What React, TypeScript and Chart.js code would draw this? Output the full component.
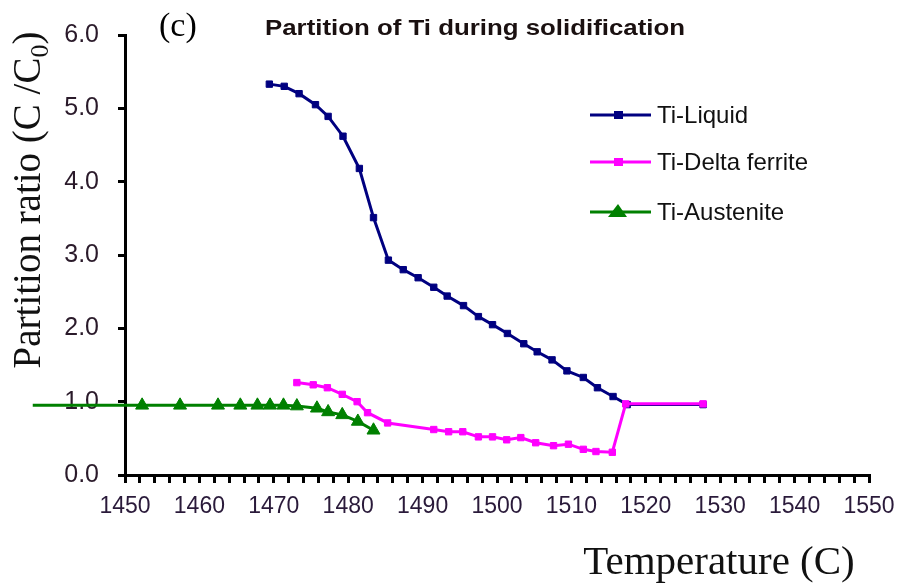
import React, { useEffect, useRef } from "react";
import { Chart, registerables } from "chart.js";

Chart.register(...registerables);

const liquidTemp = [1469.4, 1471.4, 1473.4, 1475.6, 1477.3, 1479.3, 1481.5, 1483.4, 1485.4, 1487.4, 1489.4, 1491.5, 1493.3, 1495.5, 1497.5, 1499.4, 1501.4, 1503.6, 1505.4, 1507.4, 1509.4, 1511.6, 1513.5, 1515.6, 1517.5, 1527.7];
const liquidRatio = [5.33, 5.3, 5.2, 5.05, 4.89, 4.62, 4.18, 3.51, 2.93, 2.8, 2.69, 2.56, 2.44, 2.31, 2.16, 2.05, 1.93, 1.79, 1.68, 1.57, 1.42, 1.33, 1.19, 1.07, 0.96, 0.96];

const deltaTemp = [1473.1, 1475.3, 1477.2, 1479.2, 1481.2, 1482.6, 1485.3, 1491.5, 1493.5, 1495.4, 1497.5, 1499.4, 1501.3, 1503.2, 1505.2, 1507.6, 1509.6, 1511.6, 1513.3, 1515.5, 1517.3, 1527.7];
const deltaRatio = [1.26, 1.23, 1.19, 1.1, 1.0, 0.85, 0.71, 0.62, 0.59, 0.59, 0.52, 0.52, 0.48, 0.51, 0.44, 0.4, 0.42, 0.35, 0.32, 0.31, 0.97, 0.97];

const austTemp = [1437.6, 1452.3, 1457.4, 1462.5, 1465.5, 1467.8, 1469.5, 1471.3, 1473.1, 1475.8, 1477.3, 1479.2, 1481.3, 1483.4];
const austRatio = [0.95, 0.95, 0.95, 0.95, 0.95, 0.95, 0.95, 0.95, 0.94, 0.91, 0.86, 0.82, 0.73, 0.61];

const seriesNames = ["Ti-Liquid", "Ti-Delta ferrite", "Ti-Austenite"];
const seriesColors = ["#000080", "#ff00ff", "#008000"];

const xTickLabels = ["1450", "1460", "1470", "1480", "1490", "1500", "1510", "1520", "1530", "1540", "1550"];
const yTickLabels = ["0.0", "1.0", "2.0", "3.0", "4.0", "5.0", "6.0"];

const chartTitle = "Partition of Ti during solidification";
const panelLabel = "(c)";
const xTitle = "Temperature (C)";
const yTitleMain = "Partition ratio (C /C";
const yTitleSub = "0";
const yTitleEnd = ")";

const SANS = '"Liberation Sans", Arial, sans-serif';
const SERIF = '"Liberation Serif", "Times New Roman", serif';

const toXY = (xs: number[], ys: number[]) => xs.map((x, i) => ({ x, y: ys[i] }));

const textPlugin = {
  id: "texts",
  afterDraw(chart: any) {
    const ctx = chart.ctx as CanvasRenderingContext2D;
    ctx.save();
    // panel label
    ctx.fillStyle = "#000";
    ctx.textBaseline = "middle";
    ctx.textAlign = "left";
    ctx.font = `34px ${SERIF}`;
    ctx.fillText(panelLabel, 159, 27);
    // title (stretched horizontally to match)
    ctx.fillStyle = "#1a1010";
    ctx.font = `bold 22px ${SANS}`;
    const tw = ctx.measureText(chartTitle).width;
    ctx.save();
    ctx.translate(265, 29);
    ctx.scale(420 / tw, 1);
    ctx.fillText(chartTitle, 0, 0);
    ctx.restore();
    // x title
    ctx.fillStyle = "#111";
    ctx.font = `41px ${SERIF}`;
    ctx.textAlign = "center";
    ctx.textBaseline = "alphabetic";
    ctx.fillText(xTitle, 719, 574);
    // y title rotated with subscript
    ctx.save();
    ctx.translate(40, 200);
    ctx.rotate(-Math.PI / 2);
    ctx.textAlign = "left";
    const mainFont = `39px ${SERIF}`;
    const subFont = `26px ${SERIF}`;
    ctx.font = mainFont;
    const w1 = ctx.measureText(yTitleMain).width;
    const w3 = ctx.measureText(yTitleEnd).width;
    ctx.font = subFont;
    const w2 = ctx.measureText(yTitleSub).width;
    const total = w1 + w2 + w3;
    const x0 = -total / 2;
    ctx.font = mainFont;
    ctx.fillText(yTitleMain, x0, 0);
    ctx.font = subFont;
    ctx.fillText(yTitleSub, x0 + w1, 8);
    ctx.font = mainFont;
    ctx.fillText(yTitleEnd, x0 + w1 + w2, 0);
    ctx.restore();
    // legend
    const rows = [115, 162, 212];
    ctx.font = `24px ${SANS}`;
    ctx.textBaseline = "middle";
    ctx.textAlign = "left";
    rows.forEach((ry, i) => {
      const c = seriesColors[i];
      ctx.strokeStyle = c;
      ctx.lineWidth = 3;
      ctx.beginPath();
      ctx.moveTo(590, ry);
      ctx.lineTo(651, ry);
      ctx.stroke();
      ctx.fillStyle = c;
      if (i < 2) {
        ctx.fillRect(614, ry - 4, 9, 8);
      } else {
        ctx.beginPath();
        ctx.moveTo(618, ry - 8);
        ctx.lineTo(627, ry + 5);
        ctx.lineTo(608, ry + 5);
        ctx.closePath();
        ctx.fill();
      }
      ctx.fillStyle = "#111";
      ctx.fillText(seriesNames[i], 657, ry + 1);
    });
    ctx.restore();
  },
};

export default function App() {
  const ref = useRef<HTMLCanvasElement | null>(null);
  useEffect(() => {
    if (!ref.current) return;
    const chart = new Chart(ref.current, {
      type: "line",
      data: {
        datasets: [
          {
            label: seriesNames[0],
            data: toXY(liquidTemp, liquidRatio),
            borderColor: seriesColors[0],
            backgroundColor: seriesColors[0],
            borderWidth: 3,
            pointStyle: "rect",
            pointRadius: 4.5,
            pointBorderWidth: 1,
            order: 3,
            clip: false,
          },
          {
            label: seriesNames[1],
            data: toXY(deltaTemp, deltaRatio),
            borderColor: seriesColors[1],
            backgroundColor: seriesColors[1],
            borderWidth: 3,
            pointStyle: "rect",
            pointRadius: 4.5,
            pointBorderWidth: 1,
            order: 1,
            clip: false,
          },
          {
            label: seriesNames[2],
            data: toXY(austTemp, austRatio),
            borderColor: seriesColors[2],
            backgroundColor: seriesColors[2],
            borderWidth: 3,
            pointStyle: "triangle",
            pointRadius: austTemp.map((_, i) => (i === 0 ? 0 : 7.5)),
            pointBorderWidth: 1,
            order: 2,
            clip: false,
          },
        ] as any,
      },
      options: {
        animation: false,
        responsive: false,
        maintainAspectRatio: false,
        layout: { padding: { top: 35, right: 33, left: 0, bottom: 0 } },
        plugins: {
          legend: { display: false },
          tooltip: { enabled: false },
          title: { display: false },
        },
        elements: { line: { tension: 0 } },
        scales: {
          x: {
            type: "linear",
            min: 1450,
            max: 1550,
            border: { display: true, color: "#000", width: 3 },
            grid: { drawOnChartArea: false, drawTicks: true, tickLength: 8, color: "#000", lineWidth: 3 },
            ticks: {
              stepSize: 2,
              maxTicksLimit: 100,
              autoSkip: false,
              maxRotation: 0,
              padding: 10,
              color: "#2a1a3a",
              font: { family: SANS, size: 23 },
              callback: (v: any) => {
                const idx = (Number(v) - 1450) / 10;
                return Math.abs(idx - Math.round(idx)) < 1e-6 ? xTickLabels[Math.round(idx)] : "";
              },
            },
            afterFit: (s: any) => {
              s.height = 109;
              s.paddingLeft = 0;
              s.paddingRight = 0;
            },
          },
          y: {
            type: "linear",
            min: 0,
            max: 6,
            border: { display: true, color: "#000", width: 3 },
            grid: { drawOnChartArea: false, drawTicks: true, tickLength: 7, color: "#000", lineWidth: 3 },
            ticks: {
              stepSize: 1,
              padding: 19,
              color: "#2a1a2a",
              font: { family: SANS, size: 25 },
              callback: (v: any) => yTickLabels[Math.round(Number(v))] ?? "",
            },
            afterFit: (s: any) => {
              s.width = 125;
              s.paddingTop = 0;
              s.paddingBottom = 0;
            },
          },
        },
      } as any,
      plugins: [textPlugin],
    });
    return () => chart.destroy();
  }, []);
  return (
    <div style={{ position: "fixed", left: 0, top: 0, width: 902, height: 584, background: "#fff" }}>
      <canvas ref={ref} width={902} height={584} style={{ width: 902, height: 584, display: "block" }} />
    </div>
  );
}
